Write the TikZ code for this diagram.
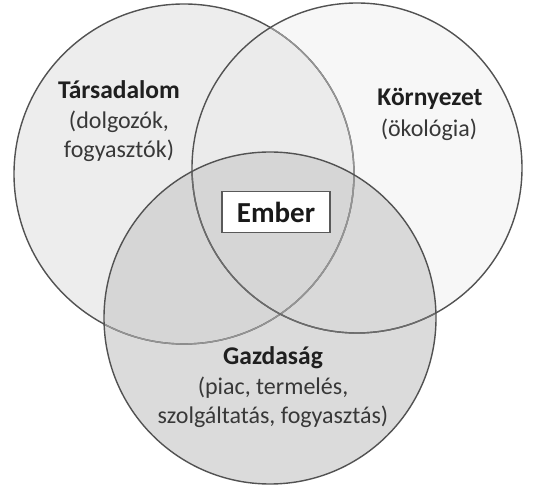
\documentclass[tikz,border=0pt]{standalone}
\usepackage{fontspec}
\setmainfont{Carlito}
\begin{document}
\begin{tikzpicture}[x=1pt,y=-1pt,
  ring/.style={draw=black!68,line width=1.4pt},
  title/.style={font=\fontsize{25.5}{30}\selectfont\bfseries,text=black!88},
  sub/.style={font=\fontsize{24}{29}\selectfont,text=black!78,align=center},
  emberbox/.style={draw=black!65,line width=1.4pt,fill=white,minimum width=108pt,minimum height=41pt,inner sep=0pt,font=\fontsize{29}{30}\selectfont\bfseries,text=black!90}]
\useasboundingbox (0,0) rectangle (550,486);
\fill[white] (0,0) rectangle (550,486);
\coordinate (L) at (184,174);
\coordinate (R) at (357,168);
\coordinate (B) at (270,318);
\def\rl{170}\def\rr{165}\def\rb{166}
% base fills
\fill[black!7] (L) circle (\rl);
\fill[black!3] (R) circle (\rr);
\begin{scope}
  \clip (L) circle (\rl);
  \fill[black!8] (R) circle (\rr);
\end{scope}
\fill[black!14] (B) circle (\rb);
\begin{scope}
  \clip (B) circle (\rb);
  \fill[black!16] (L) circle (\rl);
  \fill[black!15] (R) circle (\rr);
  \begin{scope}
    \clip (L) circle (\rl);
    \fill[black!16] (R) circle (\rr);
  \end{scope}
\end{scope}
% outlines
\draw[ring] (L) circle (\rl);
\begin{scope}
  \clip (R) circle (\rr);
  \draw[ring,draw=black!42] (L) circle (\rl);
\end{scope}
\begin{scope}
  \clip (B) circle (\rb);
  \draw[ring,draw=black!42] (L) circle (\rl);
\end{scope}
\draw[ring] (R) circle (\rr);
\begin{scope}
  \clip (B) circle (\rb);
  \draw[ring,draw=black!58] (R) circle (\rr);
\end{scope}
\draw[ring] (B) circle (\rb);
% texts
\node[title] (t1) at (119,90) {Társadalom};
\node[sub] (t2) at (119,136) {(dolgozók,\\fogyasztók)};
\node[title] (k1) at (430,99) {Környezet};
\node[sub] (k2) at (429,130) {(ökológia)};
\node[title] (g1) at (273,358) {Gazdaság};
\node[sub] (g2) at (273,402) {(piac, termelés,\\szolgáltatás, fogyasztás)};
\node[emberbox] (e) at (276,212) {Ember};
\end{tikzpicture}
\end{document}
